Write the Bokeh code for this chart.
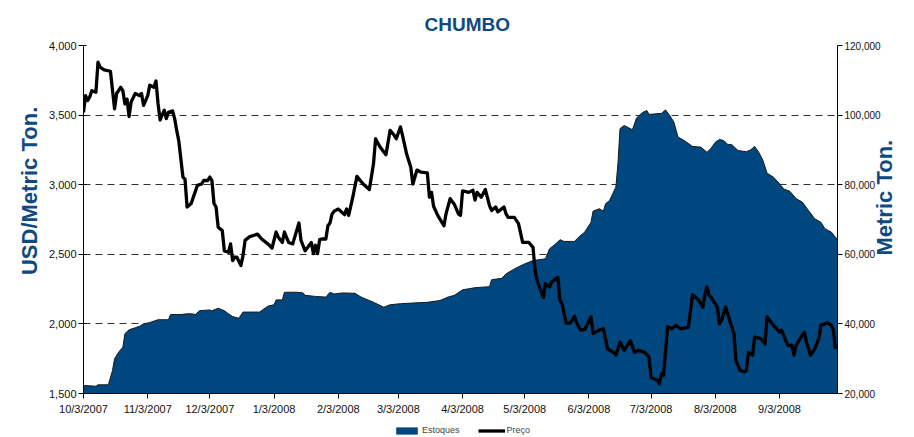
import math
import pandas as pd
from bokeh.plotting import figure
from bokeh.layouts import column
from bokeh.models import (Range1d, LinearAxis, FixedTicker, Legend, LegendItem,
                          NumeralTickFormatter, ColumnDataSource)
from bokeh.embed import file_html
from bokeh.resources import INLINE

title = "CHUMBO"
left_label = "USD/Metric Ton."
right_label = "Metric Ton."
series_names = ["Estoques", "Preço"]
start_date = "2007-10-03"
end_date = "2008-10-01"

x_tick_labels = ["10/3/2007", "11/3/2007", "12/3/2007", "1/3/2008", "2/3/2008",
                 "3/3/2008", "4/3/2008", "5/3/2008", "6/3/2008", "7/3/2008",
                 "8/3/2008", "9/3/2008"]
price_ticks = [1500, 2000, 2500, 3000, 3500, 4000]
stock_ticks = [20000, 40000, 60000, 80000, 100000, 120000]

# Preço (USD/Metric Ton.) - days after start_date
price_day = [0, 1, 2, 3, 4, 6, 7, 8, 10, 13,
             15, 16, 18, 19, 20, 21, 22, 23, 25, 27,
             28, 29, 31, 32, 34, 35, 36, 37, 39, 40,
             41, 43, 44, 45, 46, 48, 49, 50, 52, 53,
             55, 57, 58, 60, 61, 62, 63, 64, 65, 67,
             68, 70, 71, 72, 73, 74, 76, 77, 78, 80,
             82, 84, 86, 89, 91, 93, 94, 96, 97, 99,
             101, 104, 105, 107, 109, 110, 111, 112, 113, 114,
             115, 117, 118, 119, 120, 121, 123, 126, 127, 128,
             130, 132, 135, 138, 140, 141, 143, 146, 148, 150,
             151, 153, 154, 156, 158, 159, 161, 163, 166, 167,
             168, 169, 171, 174, 175, 177, 179, 181, 182, 183,
             186, 188, 189, 190, 192, 194, 196, 197, 199, 200,
             203, 204, 205, 208, 210, 212, 215, 217, 218, 219,
             222, 223, 225, 226, 229, 230, 231, 233, 235, 237,
             238, 240, 242, 245, 246, 249, 251, 253, 256, 257,
             259, 261, 264, 266, 268, 271, 273, 274, 277, 278,
             279, 280, 282, 284, 286, 288, 292, 294, 297, 299,
             300, 301, 302, 303, 306, 307, 308, 310, 312, 314,
             315, 317, 319, 320, 321, 323, 324, 327, 329, 330,
             332, 334, 336, 337, 339, 340, 342, 343, 344, 346,
             348, 349, 351, 353, 355, 356, 358, 359, 361, 362,
             363]
price_usd = [3520, 3640, 3605, 3630, 3675, 3665, 3880, 3845, 3825, 3815,
             3545, 3655, 3700, 3675, 3580, 3615, 3490, 3595, 3655, 3640,
             3655, 3570, 3640, 3715, 3700, 3745, 3580, 3465, 3535, 3475,
             3520, 3530, 3475, 3390, 3315, 3055, 3040, 2840, 2865, 2910,
             2995, 3005, 3030, 3030, 3055, 3030, 2865, 2840, 2695, 2670,
             2525, 2515, 2575, 2455, 2480, 2480, 2420, 2490, 2600, 2625,
             2635, 2645, 2610, 2575, 2545, 2660, 2625, 2585, 2660, 2585,
             2575, 2725, 2600, 2525, 2565, 2585, 2505, 2565, 2505, 2605,
             2610, 2610, 2705, 2725, 2790, 2810, 2825, 2785, 2825, 2780,
             2910, 3060, 3005, 2965, 3150, 3330, 3275, 3215, 3390, 3355,
             3330, 3415, 3355, 3220, 3125, 3005, 3105, 3090, 3085, 2910,
             2945, 2845, 2780, 2705, 2790, 2900, 2860, 2790, 2780, 2955,
             2945, 2960, 2890, 2945, 2910, 2965, 2850, 2815, 2840, 2805,
             2840, 2790, 2765, 2765, 2720, 2585, 2585, 2550, 2385, 2310,
             2190, 2290, 2265, 2300, 2335, 2170, 2145, 2005, 2005, 2055,
             2010, 1955, 1960, 2050, 1930, 1955, 1965, 1820, 1795, 1775,
             1870, 1810, 1880, 1795, 1810, 1795, 1760, 1615, 1595, 1570,
             1640, 1630, 1980, 1965, 1990, 1965, 1975, 2210, 2170, 2120,
             2215, 2265, 2205, 2190, 2120, 2000, 2025, 2120, 2025, 1930,
             1735, 1665, 1655, 1665, 1795, 1775, 1905, 1895, 1855, 2050,
             2010, 1975, 1940, 1955, 1880, 1845, 1845, 1775, 1845, 1895,
             1940, 1870, 1775, 1820, 1895, 1990, 2000, 2010, 1990, 1955,
             1820]

# Estoques (Metric Ton.) - days after start_date
stock_day = [0, 6, 7, 12, 14, 15, 17, 19, 20, 22,
             25, 27, 29, 32, 36, 41, 42, 47, 50, 52,
             54, 56, 61, 62, 65, 68, 70, 72, 75, 77,
             85, 89, 92, 93, 96, 97, 103, 106, 107, 112,
             117, 119, 121, 125, 131, 134, 140, 145, 148, 153,
             159, 166, 172, 176, 179, 182, 183, 186, 189, 196,
             197, 202, 204, 208, 212, 217, 223, 225, 228, 230,
             232, 237, 239, 242, 245, 246, 249, 251, 252, 254,
             257, 258, 259, 261, 265, 267, 270, 272, 273, 279,
             281, 283, 285, 287, 290, 294, 298, 301, 303, 305,
             307, 309, 311, 313, 316, 320, 322, 324, 326, 328,
             330, 333, 336, 338, 341, 344, 347, 350, 353, 356,
             358, 361, 363, 364]
stock_t = [22300, 22100, 22500, 22500, 26600, 30000, 31900, 33300, 37200, 38300,
           38900, 39300, 40000, 40400, 41200, 41200, 42700, 42700, 42900, 42900,
           42700, 43800, 44000, 43800, 44500, 43800, 42900, 42100, 41600, 43400,
           43400, 45100, 45500, 46900, 46900, 49100, 49100, 48900, 48200, 47900,
           47700, 49100, 48600, 48900, 48800, 47700, 46200, 44800, 45500, 45800,
           46000, 46200, 46700, 47700, 48200, 49400, 49800, 50100, 50400, 50700,
           52700, 53100, 54400, 55800, 57000, 58200, 58700, 61600, 63000, 64200,
           63700, 63700, 64900, 66400, 69200, 72400, 73100, 72400, 74500, 75500,
           79300, 86000, 96100, 97000, 95800, 99200, 100800, 101300, 100200, 100500,
           101500, 99900, 98000, 93700, 92700, 91000, 90800, 89300, 90500, 92200,
           93000, 92700, 91600, 91500, 89800, 89500, 90000, 91000, 89300, 87000,
           83300, 82200, 80300, 78800, 78100, 76000, 75000, 72600, 70200, 69200,
           67300, 66400, 64900, 64200]

# anchor points of the axis titles along each vertical axis (axis units)
left_label_at = 3560
right_label_at = 59650

BLUE = "#00467F"
TITLE_BLUE = "#0E4A80"
FONT = "Liberation Sans"

t0 = pd.Timestamp(start_date)
price_src = ColumnDataSource(dict(
    x=t0 + pd.to_timedelta(price_day, unit="D"), y=price_usd))
stock_src = ColumnDataSource(dict(
    x=t0 + pd.to_timedelta(stock_day, unit="D"), y=stock_t,
    base=[stock_ticks[0]] * len(stock_t)))

p = figure(width=914, height=420, x_axis_type="datetime",
           x_range=Range1d(t0, pd.Timestamp(end_date)),
           y_range=Range1d(price_ticks[0], price_ticks[-1]),
           output_backend="svg", toolbar_location=None,
           min_border_left=83, min_border_right=77,
           min_border_top=45, min_border_bottom=27)
p.extra_y_ranges = {"stock": Range1d(stock_ticks[0], stock_ticks[-1])}

p.title.text = title
p.title.align = "left"
p.title.offset = 341
p.title.text_font = FONT
p.title.text_font_size = "19px"
p.title.text_font_style = "bold"
p.title.text_color = TITLE_BLUE
p.title.standoff = 22

p.varea(x="x", y1="base", y2="y", source=stock_src, y_range_name="stock",
        fill_color=BLUE)
p.line(x="x", y="y", source=stock_src, y_range_name="stock",
       line_color="#1a1a1a", line_width=1)
p.line(x="x", y="y", source=price_src, line_color="black",
       line_width=3.3, line_join="round")

# axes
tick_ms = [pd.Timestamp(pd.to_datetime(s, format="%m/%d/%Y")).value // 10**6
           for s in x_tick_labels]
xa = p.xaxis[0]
xa.ticker = FixedTicker(ticks=tick_ms)
xa.major_label_overrides = {ms: lab for ms, lab in zip(tick_ms, x_tick_labels)}
ya = p.yaxis[0]
ya.ticker = FixedTicker(ticks=price_ticks)
ya.formatter = NumeralTickFormatter(format="0,0")

ra = LinearAxis(y_range_name="stock", ticker=FixedTicker(ticks=stock_ticks),
                formatter=NumeralTickFormatter(format="0,0"))
p.add_layout(ra, "right")

for ax in (xa, ya, ra):
    ax.axis_line_color = "black"
    ax.axis_line_width = 1
    ax.major_tick_line_color = "black"
    ax.major_tick_out = 5
    ax.major_tick_in = 0
    ax.minor_tick_line_color = None
    ax.major_label_text_font = FONT
    ax.major_label_text_font_size = "11px"
    ax.major_label_text_color = "#111111"
    ax.major_label_standoff = 4
ya.major_tick_in = 3
ya.major_label_standoff = 2
ra.major_label_text_font_size = "10px"
ra.major_label_standoff = 2

# axis titles, drawn as single rotated labels of outer axes
lt = LinearAxis(ticker=FixedTicker(ticks=[left_label_at]),
                major_label_overrides={left_label_at: left_label})
rt = LinearAxis(y_range_name="stock", ticker=FixedTicker(ticks=[right_label_at]),
                major_label_overrides={right_label_at: right_label})
for ax in (lt, rt):
    ax.axis_line_color = None
    ax.major_tick_line_color = None
    ax.minor_tick_line_color = None
    ax.major_tick_out = 0
    ax.major_tick_in = 0
    ax.major_label_orientation = math.pi / 2
    ax.major_label_text_font = FONT
    ax.major_label_text_font_style = "bold"
    ax.major_label_text_font_size = "22px"
    ax.major_label_text_color = TITLE_BLUE
lt.major_label_standoff = 16
rt.major_label_standoff = 1
p.add_layout(lt, "left")
p.add_layout(rt, "right")

p.xgrid.grid_line_color = None
p.ygrid.ticker = FixedTicker(ticks=price_ticks[1:])
p.ygrid.grid_line_color = "#333333"
p.ygrid.grid_line_dash = "7 5"
p.ygrid.grid_line_width = 1
p.outline_line_color = None
p.background_fill_color = "white"
p.border_fill_color = "white"

# legend strip below the chart
lg = figure(width=914, height=17, x_range=Range1d(0, 1), y_range=Range1d(0, 1),
            output_backend="svg", toolbar_location=None, min_border=0,
            x_axis_location=None, y_axis_location=None)
lg.grid.visible = False
lg.outline_line_color = None
lg.border_fill_color = "white"
lg.background_fill_color = "white"
r_area = lg.varea(x=[5, 6], y1=[5, 5], y2=[6, 6], fill_color=BLUE)
r_line = lg.line(x=[5, 6], y=[5, 6], line_color="black", line_width=3.3)
legend = Legend(items=[LegendItem(label=series_names[0], renderers=[r_area]),
                       LegendItem(label=series_names[1], renderers=[r_line])],
                orientation="horizontal", location=(310, 2),
                label_text_font=FONT, label_text_font_size="9px",
                label_height=9, glyph_width=27, glyph_height=9, spacing=18,
                padding=0, margin=0, label_standoff=2, border_line_color=None,
                background_fill_alpha=0)
lg.add_layout(legend, "center")

open("out.html", "w").write(file_html(column(p, lg, spacing=0), INLINE))
